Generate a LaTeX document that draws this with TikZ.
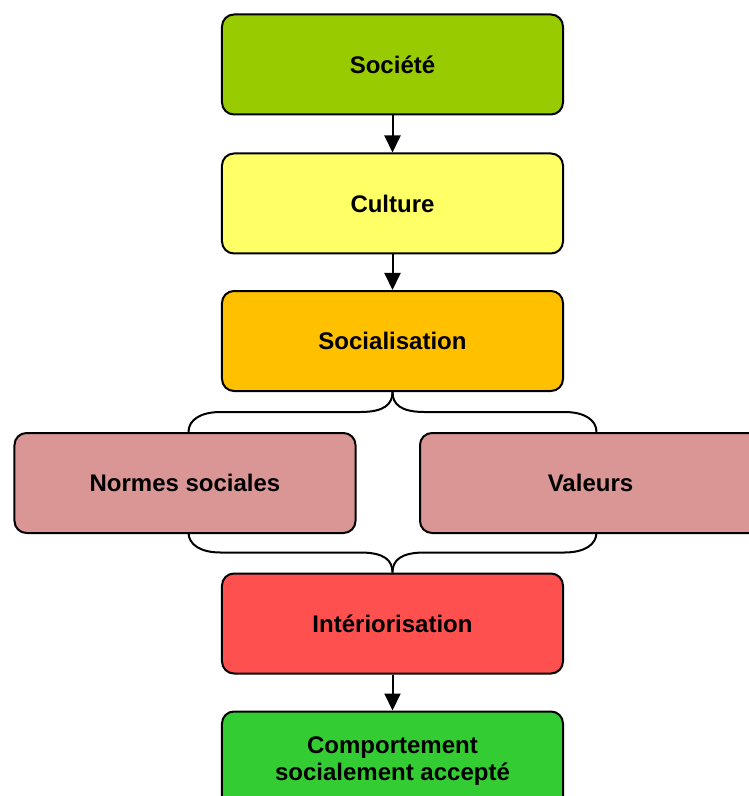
\documentclass[tikz,border=0pt]{standalone}
\usepackage{fontspec}
\setmainfont{Liberation Sans}
\usepackage{tikz}
\usetikzlibrary{arrows.meta,positioning,calc}
\definecolor{vertolive}{RGB}{153,204,0}
\definecolor{jaunepale}{RGB}{255,255,102}
\definecolor{orangeor}{RGB}{255,192,0}
\definecolor{rosevieux}{RGB}{217,150,148}
\definecolor{rougevif}{RGB}{255,80,80}
\definecolor{vertvif}{RGB}{51,204,51}
\tikzset{
  etape/.style={draw, rounded corners=6pt, line width=1pt, align=center, minimum width=170.5pt, minimum height=50pt, inner sep=2pt, font=\bfseries\fontsize{12}{13.5}\selectfont},
  fleche/.style={-{Triangle[length=8.5pt,width=8pt]}, line width=1pt},
  accolade/.style={line width=1pt},
}

\begin{document}
\begin{tikzpicture}[node distance=18pt]
\useasboundingbox (-196.25pt,32.25pt) rectangle (177.75pt,-365.75pt);
\node[etape, fill=vertolive] (soc) {Société};
\node[etape, fill=jaunepale, below=18.5pt of soc] (cult) {Culture};
\node[etape, fill=orangeor, below=17.75pt of cult] (socia) {Socialisation};
\node[etape, fill=rosevieux, below=20pt of socia, xshift=-103.75pt] (normes) {Normes sociales};
\node[etape, fill=rosevieux, right=31.25pt of normes] (val) {Valeurs};
\node[etape, fill=rougevif, below=90.25pt of socia] (inter) {Intériorisation};
\node[etape, fill=vertvif, below=of inter] (comp) {Comportement\\socialement accepté};
\draw[fleche] (soc) -- (cult);
\draw[fleche] (cult) -- (socia);
\draw[fleche] (inter) -- (comp);
% accolade du haut
\draw[accolade] (socia.south) .. controls +(0,-6pt) and +(12pt,0) .. ++(-16pt,-10pt) -- ++(-70pt,0) .. controls +(-10pt,0) and +(0,6pt) .. ++(-16pt,-10pt);
\draw[accolade] (socia.south) .. controls +(0,-6pt) and +(-12pt,0) .. ++(16pt,-10pt) -- ++(70pt,0) .. controls +(10pt,0) and +(0,6pt) .. ++(16pt,-10pt);
% accolade du bas
\draw[accolade] (inter.north) .. controls +(0,6pt) and +(12pt,0) .. ++(-16pt,10pt) -- ++(-70pt,0) .. controls +(-10pt,0) and +(0,-6pt) .. ++(-16pt,10pt);
\draw[accolade] (inter.north) .. controls +(0,6pt) and +(-12pt,0) .. ++(16pt,10pt) -- ++(70pt,0) .. controls +(10pt,0) and +(0,-6pt) .. ++(16pt,10pt);
\end{tikzpicture}
\end{document}
